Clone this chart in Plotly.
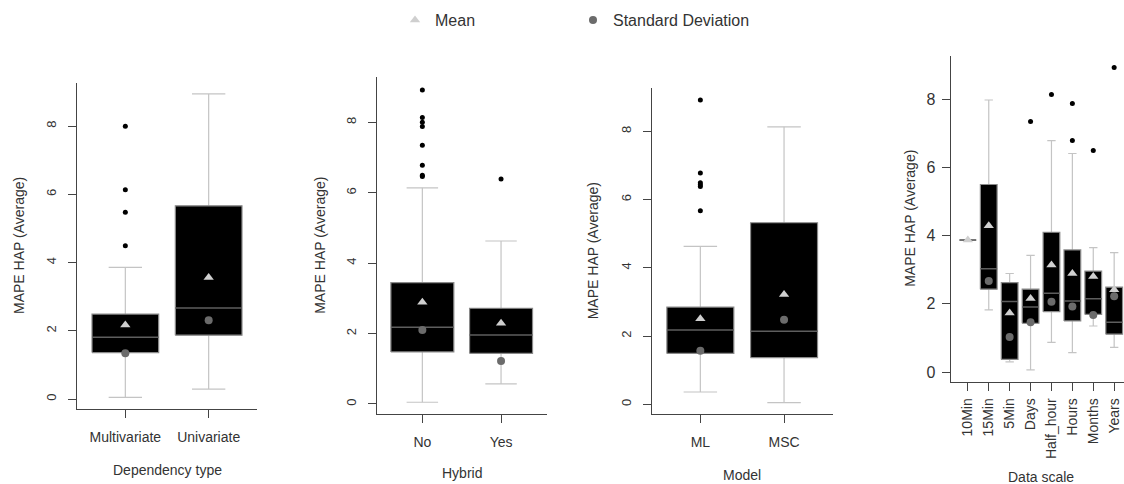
import plotly.graph_objects as go

W, H = 1124, 484

# ---------------- data ----------------
dep_cats = ["Multivariate", "Univariate"]
dep_lo = [0.05, 0.29]
dep_q1 = [1.36, 1.87]
dep_med = [1.81, 2.67]
dep_q3 = [2.49, 5.66]
dep_hi = [3.86, 8.94]
dep_mean = [2.17, 3.56]
dep_sd = [1.34, 2.31]
dep_out = [[7.99, 6.13, 5.47, 4.49], []]

hyb_cats = ["No", "Yes"]
hyb_lo = [0.05, 0.57]
hyb_q1 = [1.48, 1.44]
hyb_med = [2.18, 1.96]
hyb_q3 = [3.45, 2.72]
hyb_hi = [6.14, 4.63]
hyb_mean = [2.89, 2.29]
hyb_sd = [2.10, 1.22]
hyb_out = [[8.92, 8.14, 8.00, 7.88, 7.35, 6.78, 6.50, 6.46], [6.39]]

mod_cats = ["ML", "MSC"]
mod_lo = [0.36, 0.05]
mod_q1 = [1.49, 1.37]
mod_med = [2.18, 2.14]
mod_q3 = [2.85, 5.32]
mod_hi = [4.63, 8.13]
mod_mean = [2.51, 3.22]
mod_sd = [1.57, 2.48]
mod_out = [[8.92, 6.78, 6.49, 6.43, 6.38, 5.67], []]

scl_cats = ["10Min", "15Min", "5Min", "Days", "Half_hour", "Hours", "Months", "Years"]
scl_lo = [3.87, 1.82, 0.30, 0.06, 0.87, 0.57, 1.35, 0.72]
scl_q1 = [3.87, 2.43, 0.37, 1.43, 1.77, 1.50, 1.69, 1.11]
scl_med = [3.87, 3.03, 2.07, 1.91, 2.31, 2.08, 2.15, 1.46]
scl_q3 = [3.87, 5.50, 2.62, 2.43, 4.10, 3.58, 2.96, 2.49]
scl_hi = [3.87, 7.98, 2.89, 3.42, 6.79, 6.41, 3.65, 3.50]
scl_mean = [3.87, 4.29, 1.73, 2.16, 3.14, 2.89, 2.80, 2.41]
scl_sd = [None, 2.67, 1.03, 1.46, 2.06, 1.92, 1.67, 2.22]
scl_out = [[], [], [], [7.35], [8.14], [7.88, 6.79], [6.50], [8.93]]

y_title = "MAPE HAP (Average)"

# ---------------- styling ----------------
FONT = "Liberation Sans, Arial, sans-serif"
TXT = "#333333"
BOX_HALF = 0.4
CAP_HALF = 0.2
WHISK_COL = "#c4c4c4"
BOX_LINE = "#8a8a8a"
MED_COL = "#5e5e5e"
MEAN_COL = "#cfcfcf"
SD_COL = "#6b6b6b"

panels = [
    dict(cats=dep_cats, lo=dep_lo, q1=dep_q1, med=dep_med, q3=dep_q3, hi=dep_hi,
         mean=dep_mean, sd=dep_sd, out=dep_out, xtitle="Dependency type",
         px=(77, 257), py=(83, 409), yr=(-0.293, 9.26), xr=(0.42, 2.58),
         ytx=19, xtx=167, xty=470, rot=False),
    dict(cats=hyb_cats, lo=hyb_lo, q1=hyb_q1, med=hyb_med, q3=hyb_q3, hi=hyb_hi,
         mean=hyb_mean, sd=hyb_sd, out=hyb_out, xtitle="Hybrid",
         px=(376.7, 546.7), py=(77.3, 414.3), yr=(-0.293, 9.28), xr=(0.42, 2.58),
         ytx=320, xtx=462, xty=473, rot=False),
    dict(cats=mod_cats, lo=mod_lo, q1=mod_q1, med=mod_med, q3=mod_q3, hi=mod_hi,
         mean=mod_mean, sd=mod_sd, out=mod_out, xtitle="Model",
         px=(651.8, 832.6), py=(88.3, 414.3), yr=(-0.293, 9.26), xr=(0.42, 2.58),
         ytx=593, xtx=742, xty=475, rot=False),
    dict(cats=scl_cats, lo=scl_lo, q1=scl_q1, med=scl_med, q3=scl_q3, hi=scl_hi,
         mean=scl_mean, sd=scl_sd, out=scl_out, xtitle="Data scale",
         px=(950.7, 1124), py=(56, 381.7), yr=(-0.284, 9.27), xr=(0.18, 8.47),
         ytx=910, xtx=1041, xty=477, rot=True),
]

fig = go.Figure()
annotations = []

for k, p in enumerate(panels):
    sfx = "" if k == 0 else str(k + 1)
    xa, ya = "x" + sfx, "y" + sfx
    n = len(p["cats"])
    pos = list(range(1, n + 1))

    wx, wy, cx, cy, bx, by, mx, my = [], [], [], [], [], [], [], []
    for i, x in enumerate(pos):
        wx += [x, x, None, x, x, None]
        wy += [p["lo"][i], p["q1"][i], None, p["q3"][i], p["hi"][i], None]
        cx += [x - CAP_HALF, x + CAP_HALF, None, x - CAP_HALF, x + CAP_HALF, None]
        cy += [p["lo"][i], p["lo"][i], None, p["hi"][i], p["hi"][i], None]
        bx += [x - BOX_HALF, x + BOX_HALF, x + BOX_HALF, x - BOX_HALF, x - BOX_HALF, None]
        by += [p["q1"][i], p["q1"][i], p["q3"][i], p["q3"][i], p["q1"][i], None]
        mx += [x - BOX_HALF, x + BOX_HALF, None]
        my += [p["med"][i], p["med"][i], None]

    common = dict(xaxis=xa, yaxis=ya, showlegend=False, hoverinfo="skip")
    fig.add_trace(go.Scatter(x=wx, y=wy, mode="lines",
                             line=dict(color=WHISK_COL, width=1.2), **common))
    fig.add_trace(go.Scatter(x=cx, y=cy, mode="lines",
                             line=dict(color=WHISK_COL, width=1.2), **common))
    fig.add_trace(go.Scatter(x=bx, y=by, mode="lines", fill="toself",
                             fillcolor="#000000",
                             line=dict(color=BOX_LINE, width=1.2), **common))
    fig.add_trace(go.Scatter(x=mx, y=my, mode="lines",
                             line=dict(color=MED_COL, width=1.5), **common))

    ox, oy = [], []
    for i, x in enumerate(pos):
        for v in p["out"][i]:
            ox.append(x)
            oy.append(v)
    fig.add_trace(go.Scatter(x=ox, y=oy, mode="markers",
                             marker=dict(color="#000000", size=5), **common))

    sx = [x for i, x in enumerate(pos) if p["sd"][i] is not None]
    sy = [v for v in p["sd"] if v is not None]
    fig.add_trace(go.Scatter(x=sx, y=sy, mode="markers", name="Standard Deviation",
                             marker=dict(color=SD_COL, size=8, symbol="circle"),
                             xaxis=xa, yaxis=ya, showlegend=(k == 0),
                             legendrank=2, hoverinfo="skip"))
    fig.add_trace(go.Scatter(x=pos, y=p["mean"], mode="markers", name="Mean",
                             marker=dict(color=MEAN_COL, size=9, symbol="triangle-up"),
                             xaxis=xa, yaxis=ya, showlegend=(k == 0),
                             legendrank=1, hoverinfo="skip"))

    x0, x1 = p["px"]
    ytop, ybot = p["py"]
    xdom = [x0 / W, min(x1 / W, 1.0)]
    ydom = [(H - ybot) / H, (H - ytop) / H]

    fig.layout["xaxis" + sfx] = dict(
        domain=xdom, range=list(p["xr"]), anchor=ya,
        tickmode="array", tickvals=pos, ticktext=p["cats"],
        showline=True, linecolor="#444444", linewidth=1,
        ticks="outside", ticklen=8, tickcolor="#444444",
        showgrid=False, zeroline=False,
        tickangle=-90 if p["rot"] else 0,
        ticklabelstandoff=2 if p["rot"] else 7,
        tickfont=dict(family=FONT, size=14, color=TXT),
    )
    fig.layout["yaxis" + sfx] = dict(
        domain=ydom, range=list(p["yr"]), anchor=xa,
        tickmode="array", tickvals=[0, 2, 4, 6, 8],
        showline=True, linecolor="#444444", linewidth=1,
        ticks="outside", ticklen=8, tickcolor="#444444",
        showgrid=False, zeroline=False,
        tickangle=0 if p["rot"] else -90,
        ticklabelstandoff=3 if p["rot"] else 7,
        tickfont=dict(family=FONT, size=16 if p["rot"] else 13, color=TXT),
    )

    ymid = (ytop + ybot) / 2
    annotations.append(dict(text=y_title, x=p["ytx"] / W, y=(H - ymid) / H,
                            xref="paper", yref="paper", showarrow=False,
                            textangle=-90, xanchor="center", yanchor="middle",
                            font=dict(family=FONT, size=14, color=TXT)))
    annotations.append(dict(text=p["xtitle"], x=p["xtx"] / W,
                            y=(H - p["xty"]) / H,
                            xref="paper", yref="paper", showarrow=False,
                            xanchor="center", yanchor="middle",
                            font=dict(family=FONT, size=14, color=TXT)))

fig.update_layout(
    width=W, height=H,
    margin=dict(l=0, r=0, t=0, b=0),
    paper_bgcolor="white", plot_bgcolor="white",
    font=dict(family=FONT, color=TXT),
    annotations=annotations,
    showlegend=True,
    legend=dict(orientation="h", x=395 / W, y=1 - 3 / H, xanchor="left", yanchor="top",
                entrywidth=133, entrywidthmode="pixels",
                font=dict(family=FONT, size=16, color=TXT),
                bgcolor="rgba(0,0,0,0)", borderwidth=0),
)

fig.write_html("out.html", config={"displayModeBar": False},
               post_script="document.body.style.margin='0';document.body.style.overflow='hidden';")
